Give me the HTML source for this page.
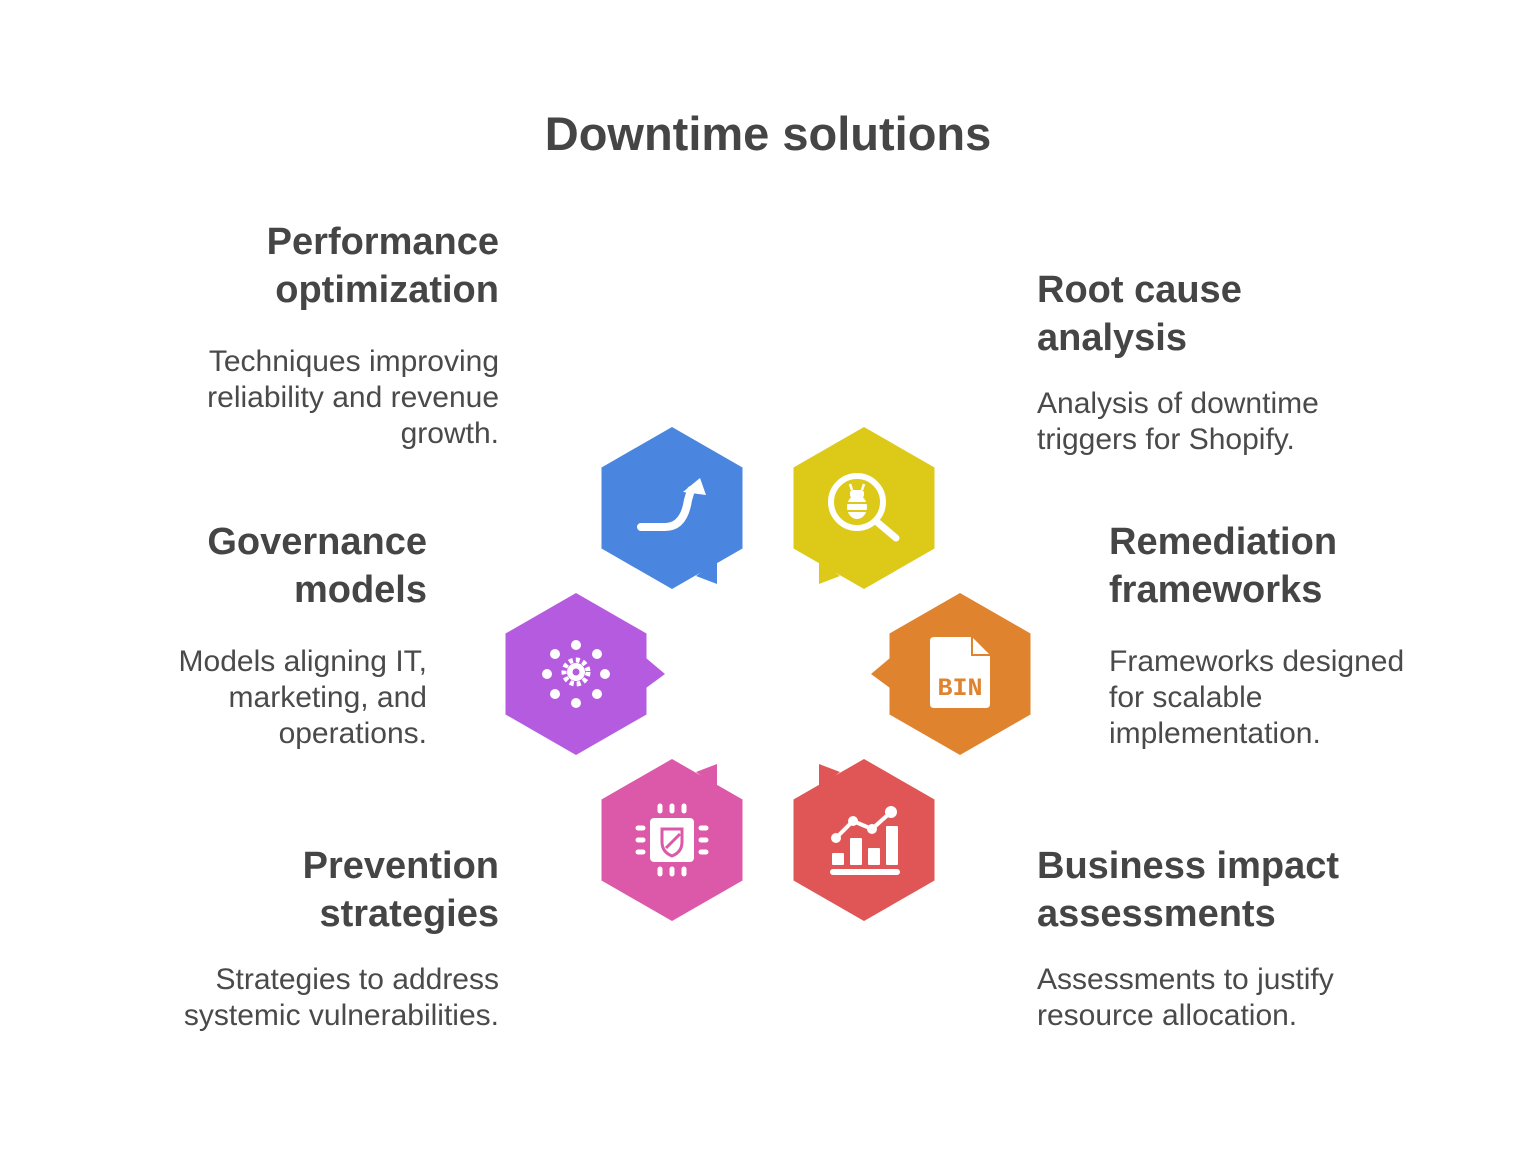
<!DOCTYPE html>
<html><head><meta charset="utf-8"><style>
html,body{margin:0;padding:0;background:#fff;}
body{width:1536px;height:1176px;position:relative;overflow:hidden;font-family:"Liberation Sans",Arial,sans-serif;color:#444;}
.t{position:absolute;white-space:nowrap;}
.title{left:0;width:1536px;text-align:center;top:107px;font-size:47px;font-weight:bold;line-height:54px;color:#454545;}
.h{font-size:38px;font-weight:bold;line-height:48px;color:#454545;}
.d{font-size:30px;line-height:36px;color:#4a4a4a;}
.r{text-align:right;}
</style></head><body>
<div class="t title">Downtime solutions</div>

<div class="t h r" style="right:1037px;top:218px">Performance<br>optimization</div>
<div class="t d r" style="right:1037px;top:344px">Techniques improving<br>reliability and revenue<br>growth.</div>

<div class="t h r" style="right:1109px;top:518px">Governance<br>models</div>
<div class="t d r" style="right:1109px;top:644px">Models aligning IT,<br>marketing, and<br>operations.</div>

<div class="t h r" style="right:1037px;top:842px">Prevention<br>strategies</div>
<div class="t d r" style="right:1037px;top:962px">Strategies to address<br>systemic vulnerabilities.</div>

<div class="t h" style="left:1037px;top:266px">Root cause<br>analysis</div>
<div class="t d" style="left:1037px;top:386px">Analysis of downtime<br>triggers for Shopify.</div>

<div class="t h" style="left:1109px;top:518px">Remediation<br>frameworks</div>
<div class="t d" style="left:1109px;top:644px">Frameworks designed<br>for scalable<br>implementation.</div>

<div class="t h" style="left:1037px;top:842px">Business impact<br>assessments</div>
<div class="t d" style="left:1037px;top:962px">Assessments to justify<br>resource allocation.</div>

<svg width="1536" height="1176" style="position:absolute;left:0;top:0" xmlns="http://www.w3.org/2000/svg">
<defs>
<polygon id="hx" points="0,-81 70.5,-40.5 70.5,40.5 0,81 -70.5,40.5 -70.5,-40.5"/>
</defs>
<g fill="#4A86E0"><use href="#hx" x="672" y="508"/><polygon points="696,576 717,584 717,560"/></g>
<g fill="#DDC918"><use href="#hx" x="864" y="508"/><polygon points="840,576 819,584 819,560"/></g>
<g fill="#B55BE0"><use href="#hx" x="576" y="674"/><polygon points="646,658 665,674 646,688"/></g>
<g fill="#E0832F"><use href="#hx" x="960" y="674"/><polygon points="890,658 871,674 890,688"/></g>
<g fill="#DC58A8"><use href="#hx" x="672" y="840"/><polygon points="696,772 717,764 717,788"/></g>
<g fill="#E05555"><use href="#hx" x="864" y="840"/><polygon points="840,772 819,764 819,788"/></g>

<path d="M641,527 H665 Q684,527 688,500 L691,490" fill="none" stroke="#fff" stroke-width="8" stroke-linecap="round"/>
<polygon points="683,492 700,478 706,495" fill="#fff"/>

<circle cx="857" cy="502" r="26" fill="none" stroke="#fff" stroke-width="6"/>
<line x1="877" y1="522" x2="896" y2="538" stroke="#fff" stroke-width="7" stroke-linecap="round"/>
<ellipse cx="857" cy="507" rx="10" ry="12" fill="#fff"/>
<rect x="850" y="490" width="14" height="8" rx="3" fill="#fff"/>
<line x1="852" y1="490" x2="850" y2="484" stroke="#fff" stroke-width="2.5"/>
<line x1="862" y1="490" x2="864" y2="484" stroke="#fff" stroke-width="2.5"/>
<line x1="843" y1="503" x2="871" y2="503" stroke="#DDC918" stroke-width="2"/>
<line x1="843" y1="511" x2="871" y2="511" stroke="#DDC918" stroke-width="2"/>

<g fill="#fff" stroke="#fff">
<circle cx="576" cy="672" r="9" stroke-width="0"/>
<circle cx="576" cy="672" r="12" fill="none" stroke-width="5" stroke-dasharray="4 3"/>
<circle cx="576" cy="672" r="3.5" fill="#B55BE0" stroke-width="0"/>
<g stroke-width="0">
<circle cx="576" cy="645" r="5"/><circle cx="576" cy="703" r="5"/>
<circle cx="547" cy="674" r="5"/><circle cx="605" cy="674" r="5"/>
<circle cx="555" cy="654" r="5"/><circle cx="597" cy="654" r="5"/>
<circle cx="555" cy="694" r="5"/><circle cx="597" cy="694" r="5"/>
</g>
</g>

<path d="M933,637 H972 L990,655 V704 Q990,708 986,708 H934 Q930,708 930,704 V641 Q930,637 934,637 Z" fill="#fff"/>
<path d="M972,637 V655 H990" fill="none" stroke="#E0832F" stroke-width="2"/>
<text x="960" y="695" text-anchor="middle" font-family="Liberation Mono, monospace" font-weight="bold" font-size="25" fill="#E0832F">BIN</text>

<rect x="650" y="818" width="44" height="44" rx="4" fill="#fff"/>
<g stroke="#fff" stroke-width="5" stroke-linecap="round">
<line x1="660" y1="806" x2="660" y2="811"/><line x1="672" y1="806" x2="672" y2="811"/><line x1="684" y1="806" x2="684" y2="811"/>
<line x1="660" y1="869" x2="660" y2="874"/><line x1="672" y1="869" x2="672" y2="874"/><line x1="684" y1="869" x2="684" y2="874"/>
<line x1="638" y1="828" x2="643" y2="828"/><line x1="638" y1="840" x2="643" y2="840"/><line x1="638" y1="852" x2="643" y2="852"/>
<line x1="701" y1="828" x2="706" y2="828"/><line x1="701" y1="840" x2="706" y2="840"/><line x1="701" y1="852" x2="706" y2="852"/>
</g>
<path d="M662,829 H682 V842 Q682,852 672,856 Q662,852 662,842 Z" fill="none" stroke="#DC58A8" stroke-width="3"/>
<line x1="666" y1="848" x2="680" y2="834" stroke="#DC58A8" stroke-width="3"/>

<g fill="#fff">
<rect x="830" y="869" width="70" height="6" rx="3"/>
<rect x="832" y="853" width="12" height="12" rx="1"/>
<rect x="850" y="838" width="12" height="27" rx="1"/>
<rect x="868" y="848" width="12" height="17" rx="1"/>
<rect x="886" y="826" width="12" height="39" rx="1"/>
</g>
<polyline points="836,838 853,821 872,829 891,812" fill="none" stroke="#fff" stroke-width="4"/>
<g fill="#fff"><circle cx="836" cy="838" r="5"/><circle cx="853" cy="821" r="5"/><circle cx="872" cy="829" r="5"/><circle cx="891" cy="812" r="6"/></g>
</svg>
</body></html>
